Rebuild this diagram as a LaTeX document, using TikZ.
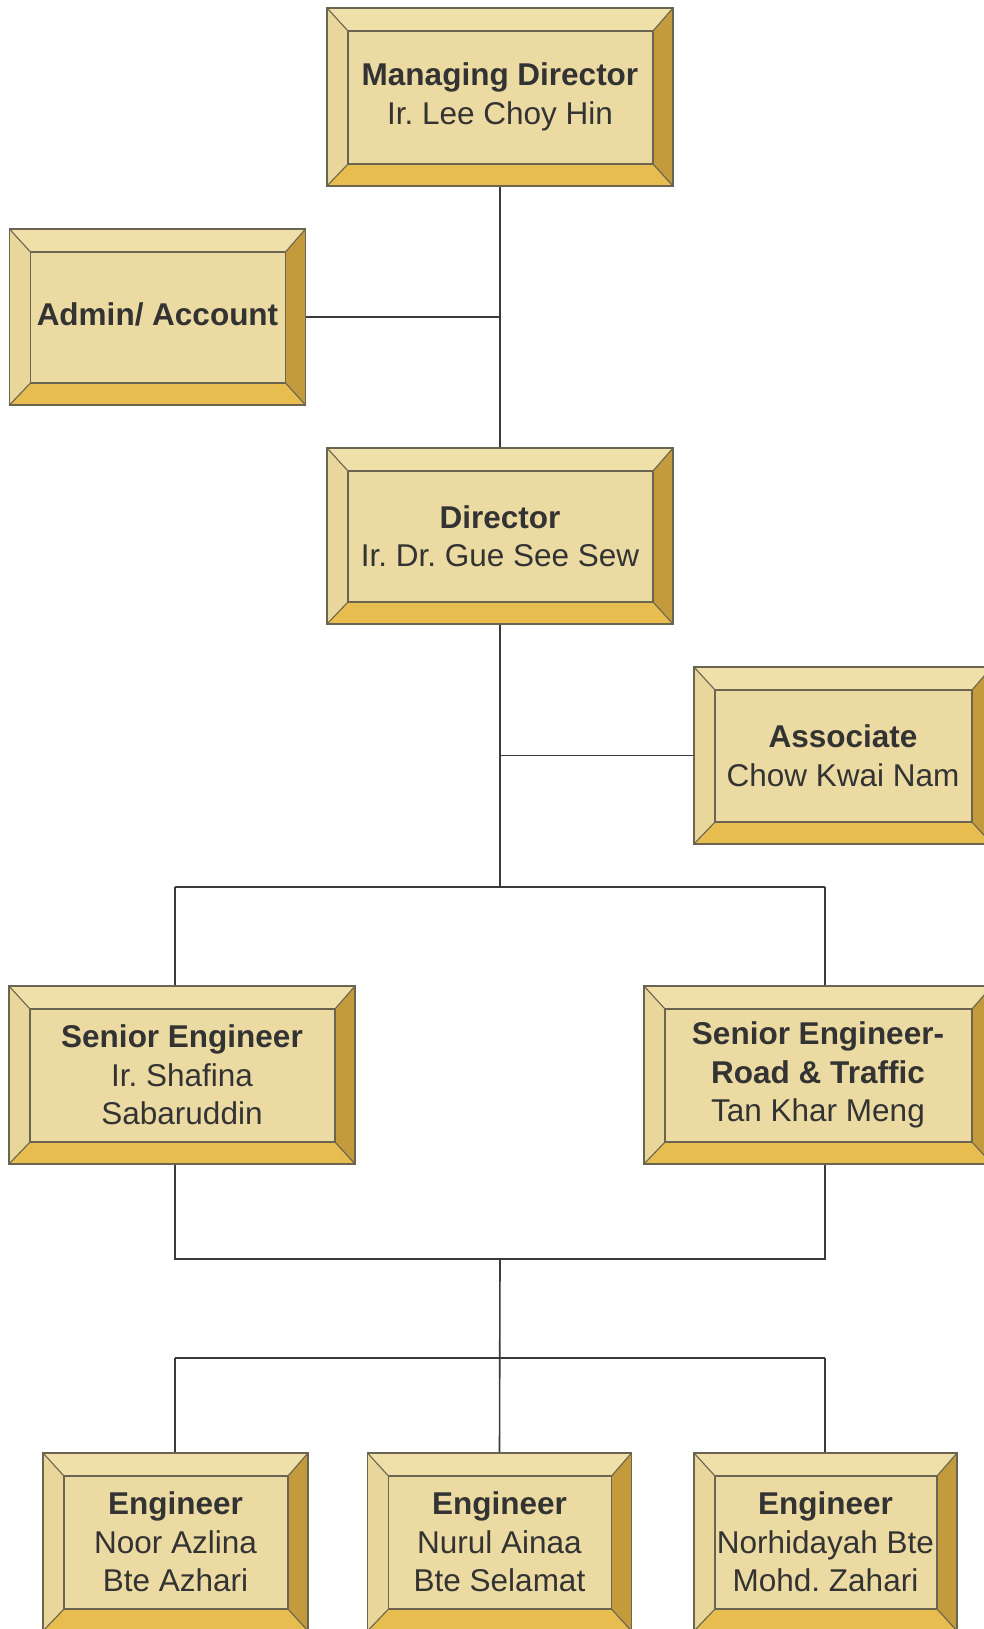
\documentclass[tikz,border=0pt]{standalone}
\usepackage{fontspec}
\setmainfont{Liberation Sans}
\begin{document}
\frenchspacing
\begin{tikzpicture}[x=1pt,y=-1pt]
\definecolor{facec}{HTML}{EBDAA2}
\definecolor{topc}{HTML}{EFDFA9}
\definecolor{leftc}{HTML}{E9D69A}
\definecolor{botc}{HTML}{E6BD4E}
\definecolor{rightc}{HTML}{C39B3D}
\definecolor{edgec}{HTML}{6A6450}
\definecolor{linec}{HTML}{3A3A3A}
\definecolor{txtc}{HTML}{333333}
\tikzset{
  bev/.style 2 args={rectangle, draw=edgec, line width=1.3pt, fill=facec,
    minimum width=#1pt, minimum height=#2pt, inner sep=0pt, align=center,
    text=txtc, font=\fontsize{31.5}{38.5}\selectfont\frenchspacing,
    path picture={
      \coordinate (NW) at (path picture bounding box.north west);
      \coordinate (NE) at (path picture bounding box.north east);
      \coordinate (SW) at (path picture bounding box.south west);
      \coordinate (SE) at (path picture bounding box.south east);
      \coordinate (iNW) at ([shift={(21pt,-23pt)}]NW);
      \coordinate (iNE) at ([shift={(-20pt,-23pt)}]NE);
      \coordinate (iSW) at ([shift={(21pt,22pt)}]SW);
      \coordinate (iSE) at ([shift={(-20pt,22pt)}]SE);
      \fill[topc] (NW) -- (NE) -- (iNE) -- (iNW) -- cycle;
      \fill[leftc] (NW) -- (iNW) -- (iSW) -- (SW) -- cycle;
      \fill[botc] (SW) -- (iSW) -- (iSE) -- (SE) -- cycle;
      \fill[rightc] (NE) -- (SE) -- (iSE) -- (iNE) -- cycle;
      \draw[edgec, line width=1.1pt] (iNW) rectangle (iSE);
      \draw[edgec, line width=1.1pt] (NW) -- (iNW) (NE) -- (iNE) (SW) -- (iSW) (SE) -- (iSE);
    }},
  conn/.style={draw=linec, line width=1.6pt}
}
\useasboundingbox (0,0) rectangle (984,1629);
\fill[white] (0,0) rectangle (984,1629);

\node[bev={346}{178}] (md) at (500,97) {\textbf{Managing Director}\\Ir. Lee Choy Hin};
\node[bev={296}{176}] (adm) at (157.5,317) {\textbf{Admin/ Account}\vphantom{p}};
\node[bev={346}{176}] (dir) at (500,536) {\textbf{Director}\\Ir. Dr. Gue See Sew};
\node[bev={298}{177}] (asc) at (843,755.5) {\textbf{Associate}\\Chow Kwai Nam};
\node[bev={346}{178}] (sl) at (182,1075) {\textbf{Senior Engineer}\\Ir. Shafina\\Sabaruddin};
\node[bev={348}{178}] (sr) at (818,1075) {\textbf{Senior Engineer-}\\\textbf{Road \& Traffic}\\Tan Khar Meng};
\node[bev={265}{178}] (e1) at (175.5,1542) {\textbf{Engineer}\\Noor Azlina\\Bte Azhari};
\node[bev={264}{178}] (e2) at (499.5,1542) {\textbf{Engineer}\\Nurul Ainaa\\Bte Selamat};
\node[bev={263}{178}] (e3) at (825.5,1542) {\textbf{Engineer}\\Norhidayah Bte\\Mohd. Zahari};

\coordinate (j1) at (500,887);
\coordinate (cL) at (175,887);
\coordinate (cR) at (825,887);
\coordinate (bL) at (175,1259);
\coordinate (bR) at (825,1259);
\coordinate (j2) at (500,1259);
\coordinate (dL) at (175,1358);
\coordinate (dR) at (825,1358);

\draw[conn] (md.south) -- (dir.north);
\draw[conn] (adm.east) -- (adm.east -| md.south);
\draw[conn] (dir.south) -- (j1);
\draw[conn] (asc.west) -- (asc.west -| dir.south);
\draw[conn] (cL) -- (cR);
\draw[conn] (cL) -- (cL |- sl.north);
\draw[conn] (cR) -- (cR |- sr.north);
\draw[conn] (bL |- sl.south) -- (bL) -- (bR) -- (bR |- sr.south);
\draw[conn] (j2) -- (e2.north);
\draw[conn] (dL) -- (dR);
\draw[conn] (dL) -- (dL |- e1.north);
\draw[conn] (dR) -- (dR |- e3.north);
\end{tikzpicture}
\end{document}
